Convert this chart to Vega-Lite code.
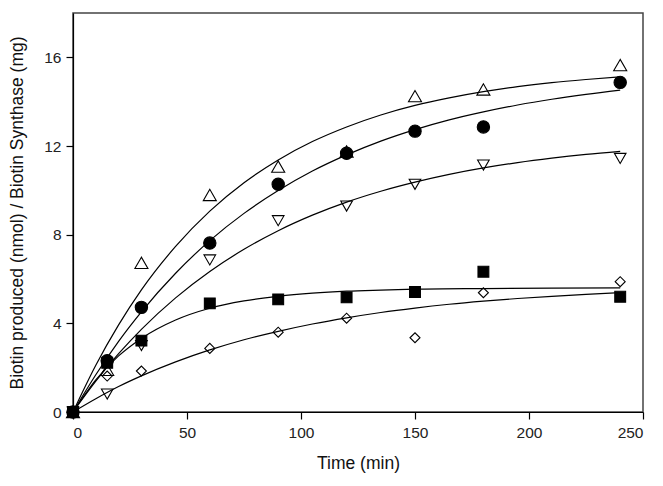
{
  "$schema": "https://vega.github.io/schema/vega-lite/v6.json",
  "width": 570,
  "height": 399,
  "autosize": {"type": "none"},
  "padding": {"left": 73, "top": 13, "right": 20, "bottom": 74},
  "background": "white",
  "config": {
    "font": "Liberation Sans",
    "view": {"stroke": "#444", "strokeWidth": 1.5},
    "axis": {
      "grid": false,
      "domainColor": "black",
      "domainWidth": 1.2,
      "tickColor": "black",
      "tickWidth": 1.2,
      "tickSize": 7,
      "labelFont": "Liberation Sans",
      "labelFontSize": 15.5,
      "labelColor": "#222",
      "titleFont": "Liberation Sans",
      "titleFontSize": 17.5,
      "titleFontWeight": "normal",
      "titleColor": "#111"
    }
  },
  "datasets": {
    "pts": [
      {"time": 0, "value": 0, "series": "A"},
      {"time": 15, "value": 1.9, "series": "A"},
      {"time": 30, "value": 6.73, "series": "A"},
      {"time": 60, "value": 9.79, "series": "A"},
      {"time": 90, "value": 11.07, "series": "A"},
      {"time": 120, "value": 11.75, "series": "A"},
      {"time": 150, "value": 14.25, "series": "A"},
      {"time": 180, "value": 14.55, "series": "A"},
      {"time": 240, "value": 15.65, "series": "A"},
      {"time": 0, "value": 0, "series": "B"},
      {"time": 15, "value": 2.31, "series": "B"},
      {"time": 30, "value": 4.72, "series": "B"},
      {"time": 60, "value": 7.62, "series": "B"},
      {"time": 90, "value": 10.27, "series": "B"},
      {"time": 120, "value": 11.67, "series": "B"},
      {"time": 150, "value": 12.67, "series": "B"},
      {"time": 180, "value": 12.86, "series": "B"},
      {"time": 240, "value": 14.87, "series": "B"},
      {"time": 0, "value": 0, "series": "C"},
      {"time": 15, "value": 0.81, "series": "C"},
      {"time": 30, "value": 3.0, "series": "C"},
      {"time": 60, "value": 6.86, "series": "C"},
      {"time": 90, "value": 8.63, "series": "C"},
      {"time": 120, "value": 9.29, "series": "C"},
      {"time": 150, "value": 10.27, "series": "C"},
      {"time": 180, "value": 11.14, "series": "C"},
      {"time": 240, "value": 11.44, "series": "C"},
      {"time": 0, "value": 0, "series": "D"},
      {"time": 15, "value": 2.22, "series": "D"},
      {"time": 30, "value": 3.22, "series": "D"},
      {"time": 60, "value": 4.9, "series": "D"},
      {"time": 90, "value": 5.08, "series": "D"},
      {"time": 120, "value": 5.17, "series": "D"},
      {"time": 150, "value": 5.41, "series": "D"},
      {"time": 180, "value": 6.33, "series": "D"},
      {"time": 240, "value": 5.2, "series": "D"},
      {"time": 0, "value": 0, "series": "E"},
      {"time": 15, "value": 1.62, "series": "E"},
      {"time": 30, "value": 1.85, "series": "E"},
      {"time": 60, "value": 2.87, "series": "E"},
      {"time": 90, "value": 3.6, "series": "E"},
      {"time": 120, "value": 4.23, "series": "E"},
      {"time": 150, "value": 3.35, "series": "E"},
      {"time": 180, "value": 5.38, "series": "E"},
      {"time": 240, "value": 5.88, "series": "E"}
    ],
    "fit": [
      {"time": 0, "value": 0, "series": "A"},
      {"time": 10, "value": 2.11, "series": "A"},
      {"time": 20, "value": 3.93, "series": "A"},
      {"time": 30, "value": 5.51, "series": "A"},
      {"time": 45, "value": 7.47, "series": "A"},
      {"time": 60, "value": 9.06, "series": "A"},
      {"time": 75, "value": 10.34, "series": "A"},
      {"time": 90, "value": 11.37, "series": "A"},
      {"time": 105, "value": 12.2, "series": "A"},
      {"time": 120, "value": 12.86, "series": "A"},
      {"time": 135, "value": 13.4, "series": "A"},
      {"time": 150, "value": 13.83, "series": "A"},
      {"time": 165, "value": 14.17, "series": "A"},
      {"time": 180, "value": 14.45, "series": "A"},
      {"time": 195, "value": 14.68, "series": "A"},
      {"time": 210, "value": 14.86, "series": "A"},
      {"time": 225, "value": 15.0, "series": "A"},
      {"time": 240, "value": 15.12, "series": "A"},
      {"time": 0, "value": 0, "series": "B"},
      {"time": 10, "value": 1.68, "series": "B"},
      {"time": 20, "value": 3.19, "series": "B"},
      {"time": 30, "value": 4.52, "series": "B"},
      {"time": 45, "value": 6.26, "series": "B"},
      {"time": 60, "value": 7.73, "series": "B"},
      {"time": 75, "value": 8.96, "series": "B"},
      {"time": 90, "value": 9.99, "series": "B"},
      {"time": 105, "value": 10.87, "series": "B"},
      {"time": 120, "value": 11.6, "series": "B"},
      {"time": 135, "value": 12.22, "series": "B"},
      {"time": 150, "value": 12.74, "series": "B"},
      {"time": 165, "value": 13.18, "series": "B"},
      {"time": 180, "value": 13.54, "series": "B"},
      {"time": 195, "value": 13.85, "series": "B"},
      {"time": 210, "value": 14.11, "series": "B"},
      {"time": 225, "value": 14.33, "series": "B"},
      {"time": 240, "value": 14.52, "series": "B"},
      {"time": 0, "value": 0, "series": "C"},
      {"time": 10, "value": 1.39, "series": "C"},
      {"time": 20, "value": 2.63, "series": "C"},
      {"time": 30, "value": 3.73, "series": "C"},
      {"time": 45, "value": 5.15, "series": "C"},
      {"time": 60, "value": 6.34, "series": "C"},
      {"time": 75, "value": 7.34, "series": "C"},
      {"time": 90, "value": 8.18, "series": "C"},
      {"time": 105, "value": 8.88, "series": "C"},
      {"time": 120, "value": 9.47, "series": "C"},
      {"time": 135, "value": 9.96, "series": "C"},
      {"time": 150, "value": 10.37, "series": "C"},
      {"time": 165, "value": 10.72, "series": "C"},
      {"time": 180, "value": 11.01, "series": "C"},
      {"time": 195, "value": 11.25, "series": "C"},
      {"time": 210, "value": 11.45, "series": "C"},
      {"time": 225, "value": 11.62, "series": "C"},
      {"time": 240, "value": 11.76, "series": "C"},
      {"time": 0, "value": 0, "series": "D"},
      {"time": 10, "value": 1.45, "series": "D"},
      {"time": 20, "value": 2.53, "series": "D"},
      {"time": 30, "value": 3.32, "series": "D"},
      {"time": 45, "value": 4.15, "series": "D"},
      {"time": 60, "value": 4.68, "series": "D"},
      {"time": 75, "value": 5.01, "series": "D"},
      {"time": 90, "value": 5.22, "series": "D"},
      {"time": 105, "value": 5.36, "series": "D"},
      {"time": 120, "value": 5.45, "series": "D"},
      {"time": 135, "value": 5.5, "series": "D"},
      {"time": 150, "value": 5.54, "series": "D"},
      {"time": 180, "value": 5.57, "series": "D"},
      {"time": 210, "value": 5.59, "series": "D"},
      {"time": 240, "value": 5.6, "series": "D"},
      {"time": 0, "value": 0, "series": "E"},
      {"time": 10, "value": 0.6, "series": "E"},
      {"time": 20, "value": 1.15, "series": "E"},
      {"time": 30, "value": 1.63, "series": "E"},
      {"time": 45, "value": 2.26, "series": "E"},
      {"time": 60, "value": 2.8, "series": "E"},
      {"time": 75, "value": 3.26, "series": "E"},
      {"time": 90, "value": 3.64, "series": "E"},
      {"time": 105, "value": 3.97, "series": "E"},
      {"time": 120, "value": 4.25, "series": "E"},
      {"time": 135, "value": 4.49, "series": "E"},
      {"time": 150, "value": 4.69, "series": "E"},
      {"time": 165, "value": 4.86, "series": "E"},
      {"time": 180, "value": 5.0, "series": "E"},
      {"time": 195, "value": 5.12, "series": "E"},
      {"time": 210, "value": 5.22, "series": "E"},
      {"time": 225, "value": 5.31, "series": "E"},
      {"time": 240, "value": 5.39, "series": "E"}
    ]
  },
  "encoding": {
    "x": {
      "field": "time",
      "type": "quantitative",
      "scale": {"domain": [0, 250], "nice": false, "zero": false},
      "axis": {"title": "Time (min)", "values": [0, 50, 100, 150, 200, 250], "titlePadding": 14, "labelPadding": 6}
    },
    "y": {
      "field": "value",
      "type": "quantitative",
      "scale": {"domain": [0, 18], "nice": false},
      "axis": {"title": "Biotin produced (nmol) / Biotin Synthase (mg)", "values": [0, 4, 8, 12, 16], "titlePadding": 17, "labelPadding": 5}
    }
  },
  "layer": [
    {
      "data": {"name": "fit"},
      "mark": {"type": "line", "color": "black", "strokeWidth": 1.2, "interpolate": "monotone"},
      "encoding": {"detail": {"field": "series", "type": "nominal"}}
    },
    {
      "data": {"name": "pts"},
      "mark": {"type": "point", "filled": true, "stroke": "black", "strokeWidth": 1.1, "opacity": 1},
      "encoding": {
        "shape": {
          "field": "series", "type": "nominal",
          "scale": {"domain": ["A", "B", "C", "D", "E"], "range": ["triangle-up", "circle", "triangle-down", "square", "diamond"]},
          "legend": null
        },
        "fill": {
          "field": "series", "type": "nominal",
          "scale": {"domain": ["A", "B", "C", "D", "E"], "range": ["transparent", "black", "transparent", "black", "transparent"]},
          "legend": null
        },
        "size": {
          "field": "series", "type": "nominal",
          "scale": {"domain": ["A", "B", "C", "D", "E"], "range": [170, 100, 150, 110, 130]},
          "legend": null
        }
      }
    }
  ]
}
